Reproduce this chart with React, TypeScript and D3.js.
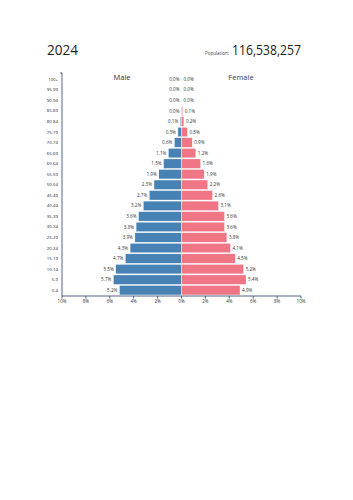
import React from "react";
import * as d3 from "d3";

const ageGroups = ["0-4","5-9","10-14","15-19","20-24","25-29","30-34","35-39","40-44","45-49","50-54","55-59","60-64","65-69","70-74","75-79","80-84","85-89","90-94","95-99","100+"];
const maleValues = [5.2,5.7,5.5,4.7,4.3,3.9,3.8,3.6,3.2,2.7,2.3,1.9,1.5,1.1,0.6,0.3,0.1,0.0,0.0,0.0,0.0];
const femaleValues = [4.9,5.4,5.2,4.5,4.1,3.8,3.6,3.6,3.1,2.6,2.2,1.9,1.6,1.2,0.9,0.5,0.2,0.1,0.0,0.0,0.0];
const tickValues = [-10,-8,-6,-4,-2,0,2,4,6,8,10];
const yearLabel = "2024";
const populationLabel = "116,538,257";

export default function App() {
  const width = 353, height = 500;
  const x = d3.scaleLinear().domain([-10, 10]).range([62, 301]);
  const y = d3.scaleBand<string>().domain([...ageGroups].reverse()).range([74, 295.5]).paddingInner(0.1).paddingOuter(0.05);
  const font = "'Open Sans', 'Noto Sans', sans-serif";
  const fmt = (v: number) => v.toFixed(1) + "%";
  return (
    <svg width={width} height={height} style={{ position: "absolute", left: 0, top: 0, background: "#fff" }} fontFamily={font}>
      <text x={47} y={55} fontSize={15} fill="#222" textLength={31} lengthAdjust="spacingAndGlyphs">{yearLabel}</text>
      <text x={229} y={55} fontSize={4.5} fill="#444" textAnchor="end">Population:</text>
      <text x={232} y={55} fontSize={15} fill="#222" textLength={69} lengthAdjust="spacingAndGlyphs">{populationLabel}</text>
      <text x={122} y={80} fontSize={7.5} fill="#333" textAnchor="middle">Male</text>
      <text x={241} y={80} fontSize={7.5} fill="#2c3e66" textAnchor="middle">Female</text>
      {ageGroups.map((g, i) => {
        const yy = y(g)!;
        const h = y.bandwidth();
        const mx = x(-maleValues[i]);
        const fx = x(femaleValues[i]);
        return (
          <g key={g}>
            <rect x={mx} y={yy} width={x(0) - mx} height={h} fill="#4682b4" stroke="#fff" strokeWidth={0.4} />
            <rect x={x(0)} y={yy} width={fx - x(0)} height={h} fill="#f07585" stroke="#fff" strokeWidth={0.4} />
            <text x={mx - 2} y={yy + h / 2} dy="0.35em" fontSize={4.6} fill="#333" textAnchor="end">{fmt(maleValues[i])}</text>
            <text x={fx + 2} y={yy + h / 2} dy="0.35em" fontSize={4.6} fill="#333" textAnchor="start">{fmt(femaleValues[i])}</text>
            <text x={58} y={yy + h / 2} dy="0.35em" fontSize={4.3} fill="#222" textAnchor="end">{g}</text>
          </g>
        );
      })}
      <line x1={62} x2={62} y1={73} y2={296} stroke="#2c3e66" strokeWidth={0.8} />
      <line x1={60} x2={62} y1={73} y2={73} stroke="#2c3e66" strokeWidth={0.8} />
      <line x1={62} x2={301} y1={296} y2={296} stroke="#2c3e66" strokeWidth={0.8} />
      {tickValues.map((t, i) => (
        <g key={i}>
          <line x1={x(t)} x2={x(t)} y1={296} y2={298.5} stroke="#2c3e66" strokeWidth={0.8} />
          <text x={x(t)} y={303} fontSize={4.5} fill="#333" textAnchor="middle">{Math.abs(t) + "%"}</text>
        </g>
      ))}
    </svg>
  );
}
